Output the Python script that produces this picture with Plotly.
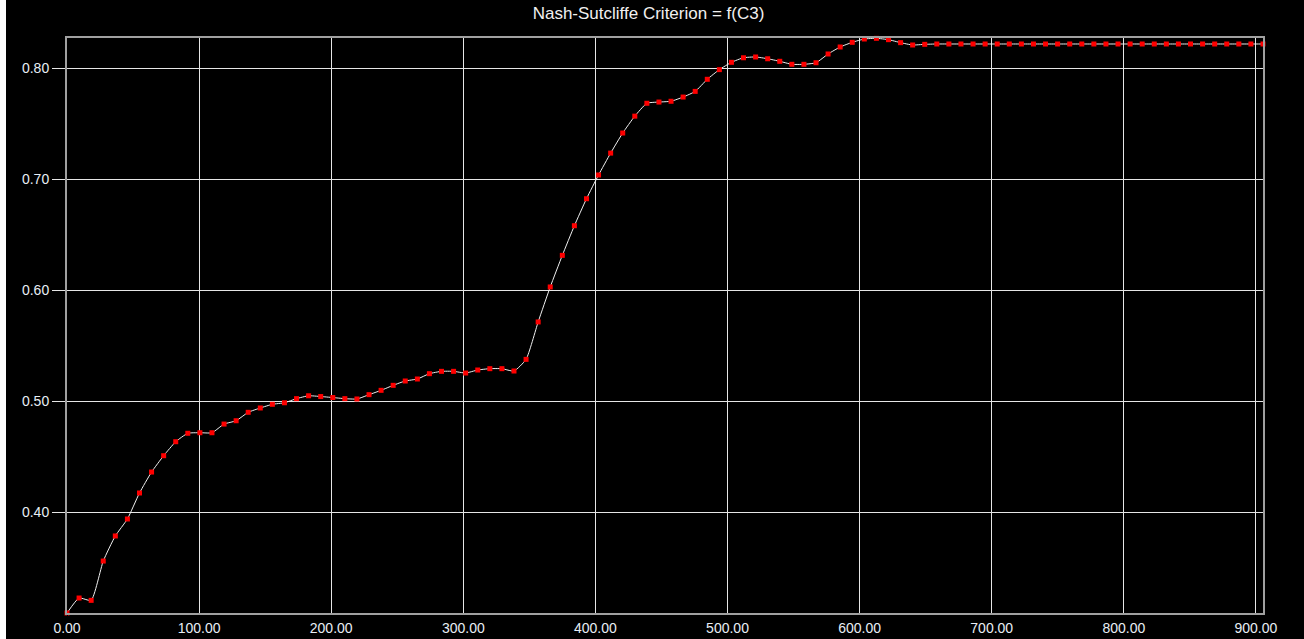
import plotly.graph_objects as go

# C3 parameter values (x) and Nash-Sutcliffe criterion (y)
c3 = [0.00, 9.15, 18.29, 27.44, 36.58, 45.73, 54.87, 64.02, 73.16, 82.31,
      91.45, 100.60, 109.74, 118.89, 128.03, 137.18, 146.32, 155.47, 164.61, 173.76,
      182.90, 192.05, 201.19, 210.34, 219.48, 228.63, 237.77, 246.92, 256.06, 265.21,
      274.35, 283.50, 292.64, 301.79, 310.93, 320.08, 329.22, 338.37, 347.51, 356.66,
      365.80, 374.95, 384.09, 393.24, 402.38, 411.53, 420.67, 429.82, 438.96, 448.11,
      457.25, 466.40, 475.54, 484.69, 493.83, 502.98, 512.12, 521.27, 530.41, 539.56,
      548.70, 557.85, 566.99, 576.14, 585.28, 594.43, 603.57, 612.72, 621.86, 631.01,
      640.15, 649.30, 658.44, 667.59, 676.73, 685.88, 695.02, 704.17, 713.31, 722.46,
      731.60, 740.75, 749.89, 759.04, 768.18, 777.33, 786.47, 795.62, 804.76, 813.91,
      823.05, 832.20, 841.34, 850.49, 859.63, 868.78, 877.92, 887.07, 896.21, 905.36]

nash = [0.3093, 0.3228, 0.3207, 0.3561, 0.3787, 0.3940, 0.4174, 0.4363, 0.4510, 0.4636,
        0.4712, 0.4717, 0.4717, 0.4795, 0.4825, 0.4901, 0.4940, 0.4973, 0.4987, 0.5024,
        0.5050, 0.5043, 0.5034, 0.5024, 0.5021, 0.5060, 0.5099, 0.5144, 0.5183, 0.5201,
        0.5249, 0.5270, 0.5270, 0.5255, 0.5282, 0.5294, 0.5294, 0.5273, 0.5378, 0.5715,
        0.6030, 0.6315, 0.6582, 0.6825, 0.7039, 0.7236, 0.7417, 0.7569, 0.7685, 0.7696,
        0.7703, 0.7741, 0.7792, 0.7901, 0.7988, 0.8054, 0.8095, 0.8102, 0.8086, 0.8063,
        0.8036, 0.8036, 0.8050, 0.8129, 0.8192, 0.8234, 0.8264, 0.8270, 0.8258, 0.8231,
        0.8210, 0.8216, 0.8219, 0.8219, 0.8219, 0.8219, 0.8219, 0.8219, 0.8219, 0.8219,
        0.8219, 0.8219, 0.8219, 0.8219, 0.8219, 0.8219, 0.8219, 0.8219, 0.8219, 0.8219,
        0.8219, 0.8219, 0.8219, 0.8219, 0.8219, 0.8219, 0.8219, 0.8219, 0.8219, 0.8219]

fig = go.Figure()
fig.add_trace(go.Scatter(x=c3, y=nash, mode="lines+markers",
                         line=dict(color="#f0f0f0", width=1, shape="spline", smoothing=0.5),
                         marker=dict(symbol="square", size=5, color="#ff0000"),
                         cliponaxis=False, showlegend=False))

fig.update_layout(
    width=1298, height=639,
    paper_bgcolor="black", plot_bgcolor="black",
    margin=dict(l=61, r=41, t=38, b=26, autoexpand=False),
    font=dict(family="Liberation Sans, Arial", color="#e8eef5", size=14),
    title=dict(text="Nash-Sutcliffe Criterion = f(C3)", x=642.5 / 1298, xref="container",
               y=1 - 13 / 639, yref="container", xanchor="center", yanchor="middle",
               font=dict(size=17, color="#f0f0f0")),
)
fig.update_xaxes(range=[0, 905.36], dtick=100, tick0=0, tickformat=".2f",
                 showgrid=True, gridcolor="#e6e6e6", gridwidth=1, zeroline=False,
                 showline=True, linecolor="#a0a0a0", linewidth=2, mirror=True,
                 ticks="outside", ticklen=1, tickcolor="black", automargin=False)
fig.update_yaxes(range=[0.3093, 0.8273], dtick=0.1, tick0=0.4, tickformat=".2f",
                 showgrid=True, gridcolor="#e6e6e6", gridwidth=1, zeroline=False,
                 showline=True, linecolor="#a0a0a0", linewidth=2, mirror=True,
                 ticks="outside", ticklen=13, tickcolor="#e6e6e6", automargin=False)

# page framing: no top margin, thin white strip on the left as in the reference
fig.write_html("out.html", post_script="document.body.style.margin='0px 0px 0px 6px';")
